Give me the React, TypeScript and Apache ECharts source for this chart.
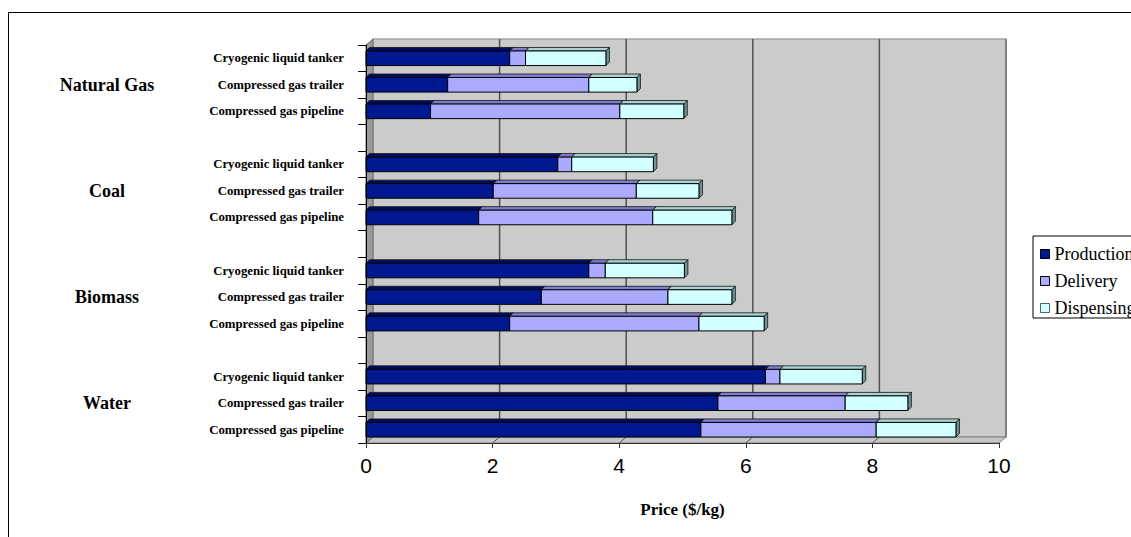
import React, { useEffect, useRef } from "react";
import * as echarts from "echarts";

const groups = ["Natural Gas", "Coal", "Biomass", "Water"];
const modes = ["Cryogenic liquid tanker", "Compressed gas trailer", "Compressed gas pipeline"];
const seriesNames = ["Production", "Delivery", "Dispensing"];
// values per row, in order: group by group, modes as above
const production = [2.27, 1.29, 1.02, 3.03, 2.01, 1.78, 3.52, 2.77, 2.27, 6.31, 5.56, 5.29];
const delivery = [0.25, 2.23, 2.99, 0.22, 2.26, 2.75, 0.26, 2.0, 2.99, 0.23, 2.01, 2.77];
const dispensing = [1.27, 0.76, 1.01, 1.29, 0.99, 1.25, 1.25, 1.01, 1.03, 1.3, 0.99, 1.26];
const xTicks = [0, 2, 4, 6, 8, 10];

const frontColors = ["#001890", "#aaaaff", "#d2ffff"];
const topColors = ["#000c62", "#7e7ed0", "#a8d4d4"];
const sideColors = ["#000a50", "#6a6ab0", "#6e9494"];

const rowLabels: string[] = [];
const groupLabels: string[] = [];
const rowIndexOf: number[] = [];
groups.forEach((g, gi) => {
  modes.forEach((m, mi) => {
    rowIndexOf.push(rowLabels.length);
    rowLabels.push(m);
    groupLabels.push(mi === 1 ? g : "");
  });
  if (gi < groups.length - 1) {
    rowLabels.push("");
    groupLabels.push("");
  }
});
const categoryKeys = rowLabels.map((_, i) => "r" + i);

const SERIF = "'Liberation Serif', 'Times New Roman', serif";
const SANS = "'Liberation Sans', Arial, sans-serif";

function makeRender(k: number) {
  return (params: any, api: any) => {
    const s = api.value(0);
    const e = api.value(1);
    const row = api.value(2);
    const a = api.coord([s, row]);
    const b = api.coord([e, row]);
    const band = api.size([0, 1])[1];
    const h = band * 0.55;
    const d = 3.5;
    const x0 = a[0];
    const x1 = b[0];
    const yt = a[1] - h / 2;
    const yb = a[1] + h / 2;
    return {
      type: "group",
      children: [
        {
          type: "polygon",
          shape: { points: [[x0, yt], [x0 + d, yt - d], [x1 + d, yt - d], [x1, yt]] },
          style: { fill: topColors[k], stroke: "#111", lineWidth: 0.8 },
        },
        {
          type: "polygon",
          shape: { points: [[x1, yt], [x1 + d, yt - d], [x1 + d, yb - d], [x1, yb]] },
          style: { fill: sideColors[k], stroke: "#111", lineWidth: 0.8 },
        },
        {
          type: "rect",
          shape: { x: x0, y: yt, width: x1 - x0, height: h },
          style: { fill: frontColors[k], stroke: "#000", lineWidth: 1 },
        },
      ],
    };
  };
}

function wallsRender(params: any, api: any) {
  const cs = params.coordSys;
  const x = cs.x;
  const y = cs.y;
  const w = cs.width;
  const h = cs.height;
  const dx = 7;
  const dy = -6;
  const children: any[] = [];
  children.push({
    type: "rect",
    shape: { x: x + dx, y: y + dy, width: w, height: h },
    style: { fill: "#cbcbcb", stroke: "#a4a4a4", lineWidth: 1.5 },
  });
  children.push({
    type: "rect",
    shape: { x: x + dx + w - 1, y: y + dy, width: 2, height: h },
    style: { fill: "#808080" },
  });
  children.push({
    type: "polygon",
    shape: { points: [[x, y + h], [x + dx, y + h + dy], [x + dx + w, y + h + dy], [x + w, y + h]] },
    style: { fill: "#c6c6c6", stroke: "#7a7a7a", lineWidth: 1 },
  });
  children.push({
    type: "polygon",
    shape: { points: [[x, y], [x + dx, y + dy], [x + dx, y + h + dy], [x, y + h]] },
    style: { fill: "#9a9a9a", stroke: "#6a6a6a", lineWidth: 1 },
  });
  xTicks.slice(1, -1).forEach((v) => {
    const cx = api.coord([v, 0])[0];
    children.push({
      type: "line",
      shape: { x1: cx + dx, y1: y + dy, x2: cx + dx, y2: y + h + dy },
      style: { stroke: "#505050", lineWidth: 1.5 },
    });
    children.push({
      type: "line",
      shape: { x1: cx + dx, y1: y + h + dy, x2: cx, y2: y + h },
      style: { stroke: "#555", lineWidth: 1 },
    });
  });
  return { type: "group", children };
}

export default function App() {
  const ref = useRef<HTMLDivElement>(null);
  useEffect(() => {
    if (!ref.current) return;
    const chart = echarts.init(ref.current, undefined, { renderer: "svg" });
    const segs = [production, delivery, dispensing];
    const seriesData = segs.map((arr, k) =>
      arr.map((v, i) => {
        let start = 0;
        for (let j = 0; j < k; j++) start += segs[j][i];
        return [start, start + v, rowIndexOf[i]];
      })
    );
    const option: any = {
      animation: false,
      backgroundColor: "#ffffff",
      graphic: [
        {
          type: "rect",
          shape: { x: 8.5, y: 12.5, width: 1300, height: 700 },
          style: { fill: "none", stroke: "#000", lineWidth: 1 },
          silent: true,
          z: -10,
        },
      ],
      grid: { left: 366, top: 45, width: 633, height: 398 },
      legend: {
        left: 1033,
        top: 236,
        orient: "vertical",
        padding: [9, 12, 1, 7],
        itemGap: 9,
        itemWidth: 9,
        itemHeight: 9,
        backgroundColor: "#ffffff",
        borderColor: "#000",
        borderWidth: 1,
        borderRadius: 0,
        textStyle: { fontFamily: SERIF, fontSize: 18, color: "#000", lineHeight: 18 },
        data: seriesNames.map((n, k) => ({
          name: n,
          icon: "rect",
          itemStyle: { color: frontColors[k], borderColor: k === 2 ? "#4a6a6a" : "#000", borderWidth: 1 },
        })),
      },
      xAxis: {
        type: "value",
        min: 0,
        max: 10,
        interval: 2,
        z: 10,
        name: "Price ($/kg)",
        nameLocation: "middle",
        nameGap: 58,
        nameTextStyle: { fontFamily: SERIF, fontSize: 17, fontWeight: "bold", color: "#000" },
        axisLine: { show: true, lineStyle: { color: "#333", width: 1 } },
        axisTick: { show: true, length: 5, lineStyle: { color: "#333" } },
        axisLabel: { fontFamily: SANS, fontSize: 21, color: "#000", margin: 12 },
        splitLine: { show: false },
      },
      yAxis: [
        {
          type: "category",
          inverse: true,
          data: categoryKeys,
          z: 10,
          axisLine: { show: true, lineStyle: { color: "#000", width: 1 } },
          axisTick: { show: true, length: 8, lineStyle: { color: "#000" } },
          axisLabel: {
            interval: 0,
            margin: 22,
            fontFamily: SERIF,
            fontSize: 12.8,
            fontWeight: "bold",
            color: "#000",
            formatter: (_v: string, i: number) => rowLabels[i],
          },
          splitLine: { show: false },
        },
        {
          type: "category",
          inverse: true,
          position: "left",
          data: categoryKeys,
          axisLine: { show: false },
          axisTick: { show: false },
          axisLabel: {
            interval: 0,
            margin: 259,
            align: "center",
            fontFamily: SERIF,
            fontSize: 18,
            fontWeight: "bold",
            color: "#000",
            padding: [0, 0, 8, 0],
            formatter: (_v: string, i: number) => groupLabels[i],
          },
          splitLine: { show: false },
        },
      ],
      series: [
        {
          type: "custom",
          name: "walls",
          silent: true,
          z: 0,
          clip: false,
          renderItem: wallsRender,
          data: [[0, 0]],
          encode: { x: 0, y: 1 },
        },
        ...seriesNames.map((n, k) => ({
          type: "custom",
          name: n,
          z: 2 + k,
          clip: false,
          itemStyle: { color: frontColors[k] },
          renderItem: makeRender(k),
          data: seriesData[k],
          encode: { x: [0, 1], y: 2 },
        })),
      ],
    };
    chart.setOption(option);
    return () => chart.dispose();
  }, []);
  return (
    <div
      ref={ref}
      style={{ position: "fixed", left: 0, top: 0, width: 1131, height: 537 }}
    />
  );
}
